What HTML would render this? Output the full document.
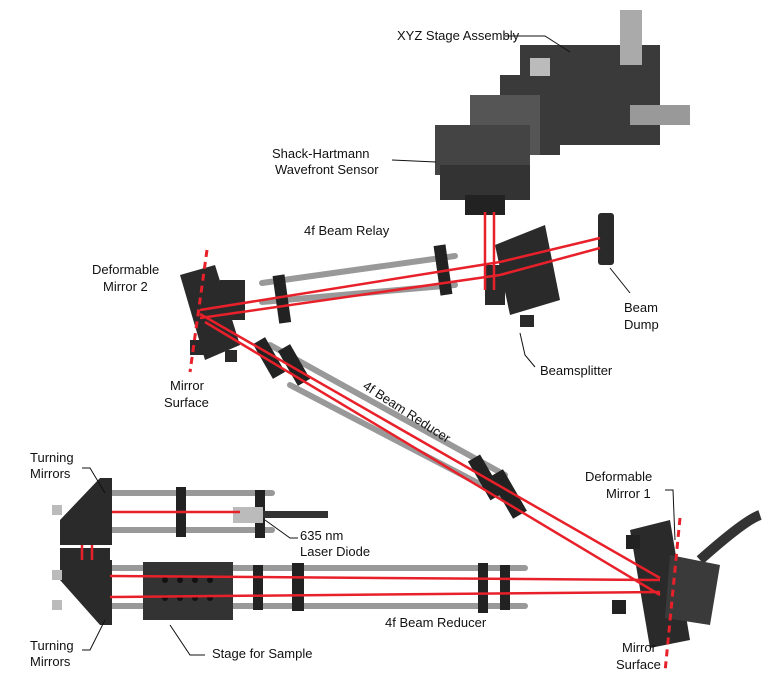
<!DOCTYPE html>
<html><head><meta charset="utf-8"><style>
body{margin:0;background:#fff}
svg{display:block}
text{font-family:"Liberation Sans",sans-serif;font-size:13px;fill:#111;font-stretch:condensed}
</style></head><body>
<svg width="780" height="684" viewBox="0 0 780 684" xmlns="http://www.w3.org/2000/svg">
<defs>
<linearGradient id="rod" x1="0" y1="0" x2="0" y2="1"><stop offset="0" stop-color="#eee"/><stop offset="0.5" stop-color="#aaa"/><stop offset="1" stop-color="#666"/></linearGradient>
</defs>
<g stroke="#999" stroke-width="6" stroke-linecap="round">
<!-- relay rods -->
<line x1="262" y1="283" x2="455" y2="256"/>
<line x1="262" y1="302" x2="455" y2="285"/>
<!-- diagonal reducer rods -->
<line x1="270" y1="345" x2="505" y2="475"/>
<line x1="290" y1="385" x2="520" y2="505"/>
<!-- upper left rods -->
<line x1="108" y1="493" x2="272" y2="493"/>
<line x1="108" y1="530" x2="272" y2="530"/>
<!-- bottom rods -->
<line x1="110" y1="568" x2="525" y2="568"/>
<line x1="110" y1="606" x2="525" y2="606"/>
</g>
<!-- XYZ stage -->
<g fill="#3a3a3a">
<rect x="520" y="45" width="140" height="100"/>
<rect x="500" y="75" width="60" height="80"/>
<rect x="470" y="95" width="70" height="60" fill="#555"/>
<rect x="620" y="10" width="22" height="55" fill="#aaa"/>
<rect x="630" y="105" width="60" height="20" fill="#999"/>
<rect x="530" y="58" width="20" height="18" fill="#bbb"/>
<rect x="435" y="125" width="95" height="50" fill="#444"/>
<rect x="440" y="165" width="90" height="35" fill="#333"/>
<rect x="465" y="195" width="40" height="20" fill="#222"/>
</g>
<!-- beamsplitter -->
<g fill="#2a2a2a">
<polygon points="495,245 545,225 560,300 510,315"/>
<rect x="485" y="265" width="20" height="40"/>
<rect x="520" y="315" width="14" height="12"/>
<rect x="598" y="213" width="16" height="52" rx="3"/>
</g>
<!-- relay carriers -->
<rect x="276" y="275" width="12" height="48" fill="#222" transform="rotate(-8 282 300)"/>
<rect x="437" y="245" width="12" height="50" fill="#222" transform="rotate(-8 443 270)"/>
<!-- DM2 -->
<g fill="#2a2a2a">
<polygon points="180,275 215,265 240,345 205,360"/>
<rect x="220" y="280" width="25" height="40"/>
<rect x="190" y="340" width="15" height="15"/>
<rect x="225" y="350" width="12" height="12"/>
</g>
<!-- diagonal reducer carriers -->
<g fill="#222">
<rect x="262" y="338" width="14" height="40" transform="rotate(-30 269 358)"/>
<rect x="287" y="345" width="14" height="40" transform="rotate(-30 294 365)"/>
<rect x="478" y="455" width="14" height="45" transform="rotate(-30 485 477)"/>
<rect x="500" y="470" width="16" height="48" transform="rotate(-30 508 494)"/>
</g>
<!-- turning mirrors -->
<g fill="#2a2a2a">
<polygon points="100,478 112,478 112,545 60,545 60,520"/>
<rect x="60" y="548" width="50" height="16"/>
<polygon points="60,560 112,560 112,625 100,625 60,580"/>
<rect x="52" y="505" width="10" height="10" fill="#bbb"/>
<rect x="52" y="570" width="10" height="10" fill="#bbb"/>
<rect x="52" y="600" width="10" height="10" fill="#bbb"/>
</g>
<!-- upper left carriers & laser -->
<rect x="176" y="487" width="10" height="50" fill="#222"/>
<rect x="255" y="490" width="10" height="48" fill="#222"/>
<rect x="233" y="507" width="30" height="16" fill="#bbb"/>
<rect x="263" y="511" width="65" height="7" fill="#333"/>
<!-- bottom carriers / stage -->
<g fill="#222">
<rect x="143" y="562" width="90" height="58" fill="#333"/>
<rect x="253" y="565" width="10" height="45"/>
<rect x="292" y="563" width="12" height="48"/>
<rect x="478" y="563" width="10" height="50"/>
<rect x="500" y="565" width="10" height="45"/>
</g>
<g fill="#111">
<circle cx="165" cy="580" r="3"/><circle cx="180" cy="580" r="3"/><circle cx="195" cy="580" r="3"/><circle cx="210" cy="580" r="3"/>
<circle cx="165" cy="598" r="3"/><circle cx="180" cy="598" r="3"/><circle cx="195" cy="598" r="3"/><circle cx="210" cy="598" r="3"/>
</g>
<!-- DM1 -->
<g>
<path d="M700,560 Q745,520 760,515" stroke="#333" stroke-width="10" fill="none"/>
<polygon points="630,530 670,520 690,640 650,648" fill="#2a2a2a"/>
<polygon points="670,555 720,565 710,625 665,618" fill="#3a3a3a"/>
<rect x="626" y="535" width="14" height="14" fill="#222"/>
<rect x="612" y="600" width="14" height="14" fill="#222"/>
</g>
<!-- beams -->
<g stroke="#e8202a" stroke-width="2.5" fill="none">
<line x1="485" y1="212" x2="485" y2="290"/>
<line x1="494" y1="212" x2="494" y2="290"/>
<line x1="200" y1="310" x2="500" y2="262"/>
<line x1="200" y1="318" x2="500" y2="275"/>
<line x1="500" y1="262" x2="600" y2="238"/>
<line x1="500" y1="275" x2="600" y2="248"/>
<line x1="200" y1="314" x2="660" y2="578"/>
<line x1="205" y1="322" x2="660" y2="595"/>
<line x1="110" y1="576" x2="660" y2="580"/>
<line x1="110" y1="597" x2="660" y2="592"/>
<line x1="112" y1="512" x2="240" y2="512"/>
<line x1="82" y1="545" x2="82" y2="560"/><line x1="92" y1="545" x2="92" y2="560"/>
</g>
<g stroke="#e8202a" stroke-width="3" stroke-dasharray="7,5">
<line x1="207" y1="250" x2="190" y2="372"/>
<line x1="680" y1="518" x2="665" y2="672"/>
</g>
<!-- leaders -->
<g stroke="#111" stroke-width="1" fill="none">
<polyline points="505,36 545,36 570,52"/>
<line x1="392" y1="160" x2="436" y2="162"/>
<polyline points="630,293 610,268"/>
<polyline points="535,367 525,355 520,333"/>
<polyline points="82,468 90,468 105,493"/>
<polyline points="82,650 90,650 105,620"/>
<polyline points="205,655 190,655 170,625"/>
<polyline points="298,538 290,538 265,520"/>
<polyline points="665,490 673,490 675,540"/>
</g>
<!-- labels -->
<text x="397" y="40">XYZ Stage Assembly</text>
<text x="272" y="158">Shack-Hartmann</text>
<text x="275" y="174">Wavefront Sensor</text>
<text x="304" y="235">4f Beam Relay</text>
<text x="92" y="274">Deformable</text>
<text x="103" y="291">Mirror 2</text>
<text x="624" y="312">Beam</text>
<text x="624" y="329">Dump</text>
<text x="540" y="375">Beamsplitter</text>
<text x="170" y="390">Mirror</text>
<text x="164" y="407">Surface</text>
<text x="362" y="388" transform="rotate(33 362 388)">4f Beam Reducer</text>
<text x="30" y="462">Turning</text>
<text x="30" y="478">Mirrors</text>
<text x="300" y="540">635 nm</text>
<text x="300" y="556">Laser Diode</text>
<text x="585" y="481">Deformable</text>
<text x="606" y="498">Mirror 1</text>
<text x="385" y="627">4f Beam Reducer</text>
<text x="30" y="650">Turning</text>
<text x="30" y="666">Mirrors</text>
<text x="212" y="658">Stage for Sample</text>
<text x="622" y="652">Mirror</text>
<text x="616" y="669">Surface</text>
</svg>
</body></html>
